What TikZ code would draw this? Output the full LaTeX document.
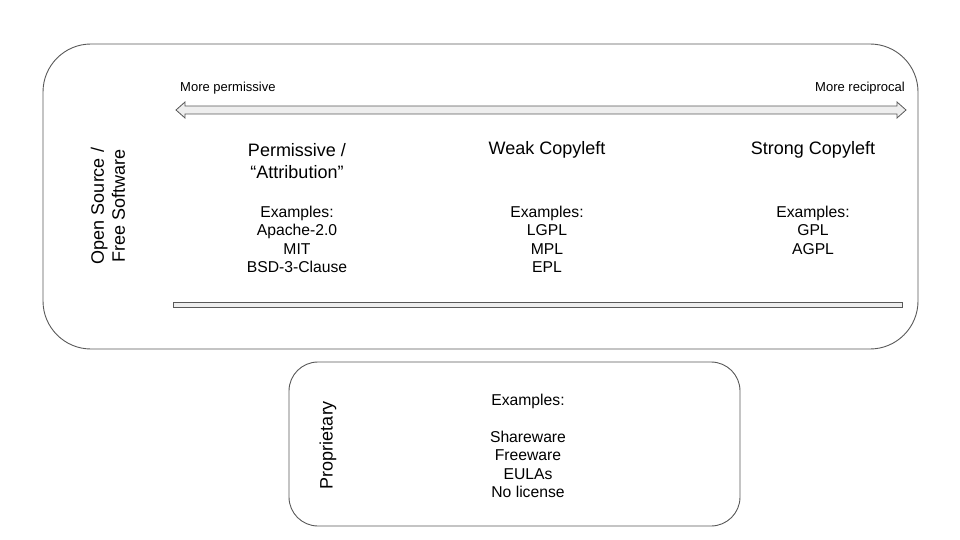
\documentclass[tikz,border=0pt]{standalone}
\usepackage{fontspec}
\setmainfont{Liberation Sans}
\definecolor{edge}{HTML}{595959}
\definecolor{shade}{HTML}{EEEEEE}
\begin{document}
\begin{tikzpicture}[x=1pt,y=-1pt,
  panel/.style={draw=edge,line width=0.9pt},
  title/.style={font=\fontsize{18}{21.5}\selectfont,align=center,inner sep=0pt},
  examples/.style={font=\fontsize{15.7}{18.4}\selectfont,align=center,inner sep=0pt,anchor=north},
  hint/.style={font=\fontsize{13}{15}\selectfont,inner sep=0pt},
  side/.style={font=\fontsize{18}{21}\selectfont,align=center,inner sep=0pt,rotate=90}]
\useasboundingbox (0,0) rectangle (960,540);
% panels
\draw[panel,rounded corners=48pt] (43,44) rectangle (918,349);
\draw[panel,rounded corners=29pt] (289,362) rectangle (740,526);
% double arrow
\draw[draw=edge,fill=shade,line width=0.8pt,line join=miter]
  (176,110) -- (185,102) -- (185,106) -- (897,106) -- (897,102) -- (906,110)
  -- (897,118) -- (897,114) -- (185,114) -- (185,118) -- cycle;
% bar
\draw[draw=edge,fill=shade,line width=0.9pt] (173,302) rectangle (902,307);
% hints
\node[hint,anchor=west] (perm) at (180,88) {More permissive};
\node[hint,anchor=east] (recip) at (905,88) {More reciprocal};
% titles
\node[title] (t1) at (297,161) {Permissive /\\“Attribution”};
\node[title] (t2) at (547,150) {Weak Copyleft};
\node[title] (t3) at (813,150) {Strong Copyleft};
% examples
\node[examples] (e1) at (297,206) {Examples:\\Apache-2.0\\MIT\\BSD-3-Clause};
\node[examples] (e2) at (547,206) {Examples:\\LGPL\\MPL\\EPL};
\node[examples] (e3) at (813,206) {Examples:\\GPL\\AGPL};
% side labels
\node[side] (os) at (108,206) {Open Source /\\Free Software};
\node[side] (prop) at (328,445) {Proprietary};
% proprietary examples
\node[examples] (e4) at (528,394) {Examples:\\[18.4pt]Shareware\\Freeware\\EULAs\\No license};
\end{tikzpicture}
\end{document}
